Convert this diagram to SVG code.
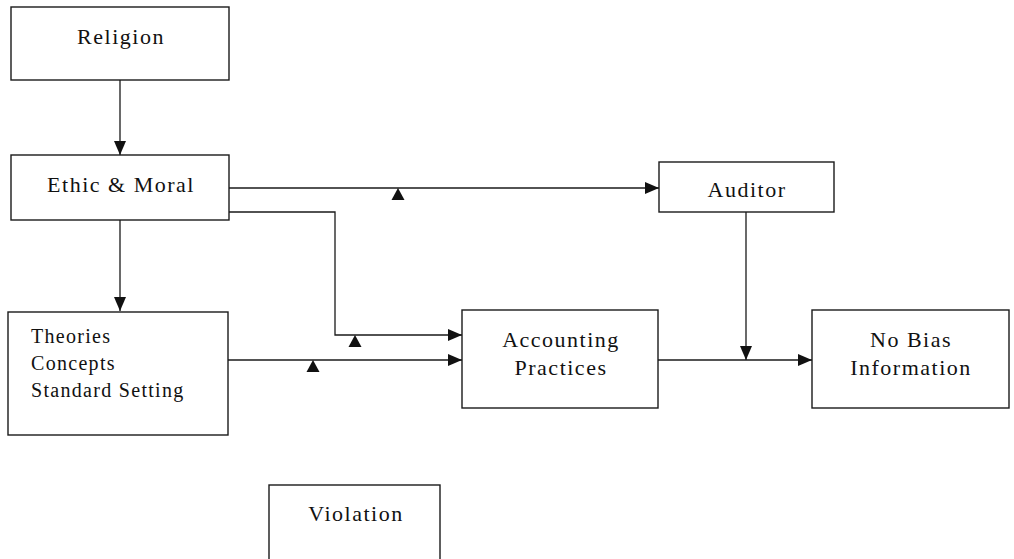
<svg xmlns="http://www.w3.org/2000/svg" width="1014" height="559" viewBox="0 0 1014 559">
<defs>
<style>
.box{fill:#fff;stroke:#1a1a1a;stroke-width:1.4}
.ln{fill:none;stroke:#1a1a1a;stroke-width:1.3}
.t{font-family:"Liberation Serif","Times New Roman",serif;fill:#111;font-size:22px;letter-spacing:1.5px}
.c{text-anchor:middle}
.s{font-size:20px;letter-spacing:1.3px}
.tri{fill:#111}
</style>
<marker id="ah" viewBox="0 0 14 12" refX="14" refY="6" markerWidth="14" markerHeight="12" markerUnits="userSpaceOnUse" orient="auto">
<path d="M0,0 L14,6 L0,12 Z" fill="#111"/>
</marker>
</defs>
<rect width="1014" height="559" fill="#fff"/>
<g id="connectors">
<line class="ln" x1="120" y1="80" x2="120" y2="155" marker-end="url(#ah)"/>
<line class="ln" x1="120" y1="220" x2="120" y2="311" marker-end="url(#ah)"/>
<line class="ln" x1="229" y1="188" x2="659" y2="188" marker-end="url(#ah)"/>
<polyline class="ln" points="229,212 335,212 335,335 462,335" marker-end="url(#ah)"/>
<line class="ln" x1="228" y1="360" x2="462" y2="360" marker-end="url(#ah)"/>
<line class="ln" x1="746" y1="212" x2="746" y2="360" marker-end="url(#ah)"/>
<line class="ln" x1="658" y1="360" x2="812" y2="360" marker-end="url(#ah)"/>
<path class="tri" d="M398,188 L404.5,200 L391.5,200 Z"/>
<path class="tri" d="M355,335 L361.5,347 L348.5,347 Z"/>
<path class="tri" d="M313,360 L319.5,372 L306.5,372 Z"/>
</g>
<g id="religion">
<rect class="box" x="11" y="7" width="218" height="73"/>
<text class="t c" x="121" y="44">Religion</text>
</g>
<g id="ethic">
<rect class="box" x="11" y="155" width="218" height="65"/>
<text class="t c" x="121" y="192">Ethic &amp; Moral</text>
</g>
<g id="auditor">
<rect class="box" x="659" y="162" width="175" height="50"/>
<text class="t c" x="747" y="197">Auditor</text>
</g>
<g id="theories">
<rect class="box" x="8" y="312" width="220" height="123"/>
<text class="t s" x="31" y="343">Theories</text>
<text class="t s" x="31" y="370">Concepts</text>
<text class="t s" x="31" y="397">Standard Setting</text>
</g>
<g id="accounting">
<rect class="box" x="462" y="310" width="196" height="98"/>
<text class="t c" x="561" y="347">Accounting</text>
<text class="t c" x="561" y="375">Practices</text>
</g>
<g id="nobias">
<rect class="box" x="812" y="310" width="197" height="98"/>
<text class="t c" x="911" y="347">No Bias</text>
<text class="t c" x="911" y="375">Information</text>
</g>
<g id="violation">
<rect class="box" x="269" y="485" width="171" height="90"/>
<text class="t c" x="356" y="521">Violation</text>
</g>
</svg>
